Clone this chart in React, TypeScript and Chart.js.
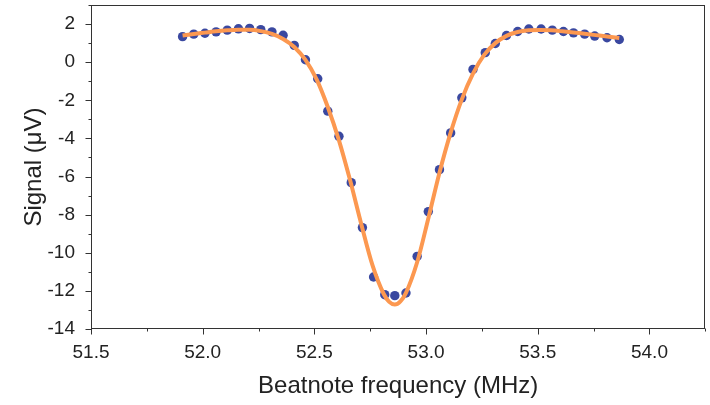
import React, { useEffect, useRef } from "react";
import { Chart, registerables } from "chart.js";

Chart.register(...registerables);

// Measured signal
const DATA_X = [51.91, 51.96, 52.01, 52.06, 52.11, 52.16, 52.21, 52.26, 52.31, 52.36, 52.41, 52.46, 52.515, 52.56, 52.61, 52.665, 52.715, 52.765, 52.815, 52.86, 52.91, 52.96, 53.01, 53.06, 53.11, 53.16, 53.21, 53.265, 53.31, 53.36, 53.41, 53.46, 53.515, 53.565, 53.615, 53.66, 53.71, 53.755, 53.81, 53.865];
const DATA_Y = [1.34, 1.47, 1.52, 1.59, 1.68, 1.75, 1.77, 1.71, 1.59, 1.41, 0.88, 0.13, -0.87, -2.57, -3.89, -6.32, -8.68, -11.27, -12.2, -12.25, -12.11, -10.19, -7.84, -5.64, -3.71, -1.87, -0.38, 0.5, 0.98, 1.4, 1.61, 1.74, 1.74, 1.68, 1.61, 1.54, 1.47, 1.37, 1.28, 1.19];

// Fit curve
const FIT_X = [51.91, 51.96, 52.01, 52.06, 52.11, 52.16, 52.21, 52.26, 52.31, 52.36, 52.41, 52.46, 52.51, 52.56, 52.61, 52.66, 52.71, 52.76, 52.81, 52.835, 52.86, 52.885, 52.91, 52.96, 53.01, 53.06, 53.11, 53.16, 53.21, 53.26, 53.31, 53.36, 53.41, 53.46, 53.51, 53.56, 53.61, 53.66, 53.71, 53.76, 53.81, 53.865];
const FIT_Y = [1.4, 1.48, 1.55, 1.62, 1.67, 1.7, 1.7, 1.63, 1.48, 1.22, 0.8, 0.12, -0.9, -2.35, -4.1, -6.2, -8.5, -10.65, -12.15, -12.58, -12.72, -12.55, -12.1, -10.5, -8.2, -5.8, -3.7, -1.95, -0.6, 0.38, 1.0, 1.38, 1.58, 1.67, 1.69, 1.67, 1.62, 1.56, 1.49, 1.42, 1.35, 1.27];

// Axes
const X_TICKS = [51.5, 52.0, 52.5, 53.0, 53.5, 54.0];
const X_MINOR = [51.75, 52.25, 52.75, 53.25, 53.75, 54.25];
const Y_TICKS = [-14, -12, -10, -8, -6, -4, -2, 0, 2];
const Y_MINOR = [-13, -11, -9, -7, -5, -3, -1, 1, 3];
const X_MIN = 51.5;
const X_MAX = 54.25;
const Y_MIN = -14;
const Y_MAX = 3;

const FONT = "'Liberation Sans', Arial, sans-serif";
const AXIS_COLOR = "#333333";

const framePlugin = {
  id: "frameTicks",
  afterDatasetsDraw(chart: any) {
    const { ctx, chartArea } = chart;
    const xs = chart.scales.x;
    const ys = chart.scales.y;
    ctx.save();
    ctx.strokeStyle = AXIS_COLOR;
    ctx.lineWidth = 1;
    const l = Math.round(chartArea.left) + 0.5;
    const r = Math.round(chartArea.right) - 0.5;
    const t = Math.round(chartArea.top) + 0.5;
    const b = Math.round(chartArea.bottom) - 0.5;
    ctx.strokeRect(l, t, r - l, b - t);
    ctx.beginPath();
    X_TICKS.forEach((v) => {
      const px = Math.round(xs.getPixelForValue(v)) + 0.5;
      ctx.moveTo(px, b);
      ctx.lineTo(px, b + 6);
    });
    X_MINOR.forEach((v) => {
      const px = Math.round(xs.getPixelForValue(v)) + 0.5;
      ctx.moveTo(px, b);
      ctx.lineTo(px, b + 3);
    });
    Y_TICKS.forEach((v) => {
      const py = Math.round(ys.getPixelForValue(v)) + 0.5;
      ctx.moveTo(l, py);
      ctx.lineTo(l - 6, py);
    });
    Y_MINOR.forEach((v) => {
      const py = Math.round(ys.getPixelForValue(v)) + 0.5;
      ctx.moveTo(l, py);
      ctx.lineTo(l - 3, py);
    });
    ctx.stroke();
    ctx.restore();
  },
};

export default function App() {
  const canvasRef = useRef<HTMLCanvasElement | null>(null);

  useEffect(() => {
    const canvas = canvasRef.current;
    if (!canvas) return;
    const fitData = FIT_X.map((x, i) => ({ x, y: FIT_Y[i] }));
    const pts = DATA_X.map((x, i) => ({ x, y: DATA_Y[i] }));
    const chart = new Chart(canvas, {
      type: "scatter",
      data: {
        datasets: [
          {
            label: "Fit",
            data: fitData,
            showLine: true,
            borderColor: "rgb(252, 152, 80)",
            borderWidth: 4,
            pointRadius: 0,
            cubicInterpolationMode: "monotone",
            order: 0,
          },
          {
            label: "Signal",
            data: pts,
            showLine: false,
            backgroundColor: "rgb(58, 72, 160)",
            borderWidth: 0,
            pointRadius: 4.7,
            order: 1,
          },
        ],
      },
      options: {
        responsive: false,
        animation: false,
        events: [],
        layout: { padding: { left: 0, right: 3, top: 5, bottom: 0 } },
        plugins: {
          legend: { display: false },
          tooltip: { enabled: false },
        },
        scales: {
          x: {
            type: "linear",
            min: X_MIN,
            max: X_MAX,
            afterBuildTicks: (scale: any) => {
              scale.ticks = X_TICKS.map((v) => ({ value: v }));
            },
            afterFit: (scale: any) => {
              scale.height = 76;
              scale.paddingLeft = 0;
              scale.paddingRight = 0;
            },
            grid: { display: false },
            border: { display: false },
            ticks: {
              font: { family: FONT, size: 19 },
              color: "#222222",
              padding: 4,
              maxRotation: 0,
              autoSkip: false,
              callback: (v: any) => Number(v).toFixed(1),
            },
            title: {
              display: true,
              text: "Beatnote frequency (MHz)",
              font: { family: FONT, size: 24 },
              color: "#222222",
              padding: { top: 0, bottom: 4 },
            },
          },
          y: {
            type: "linear",
            min: Y_MIN,
            max: Y_MAX,
            afterBuildTicks: (scale: any) => {
              scale.ticks = Y_TICKS.map((v) => ({ value: v }));
            },
            afterFit: (scale: any) => {
              scale.width = 91;
              scale.paddingTop = 0;
              scale.paddingBottom = 0;
            },
            grid: { display: false },
            border: { display: false },
            ticks: {
              font: { family: FONT, size: 19 },
              color: "#222222",
              padding: 8,
              autoSkip: false,
              callback: (v: any) => String(v),
            },
            title: {
              display: true,
              text: "Signal (\u03bcV)",
              font: { family: FONT, size: 24 },
              color: "#222222",
              padding: { top: 20, bottom: 0 },
            },
          },
        },
      },
      plugins: [framePlugin],
    } as any);
    return () => chart.destroy();
  }, []);

  return (
    <div style={{ position: "fixed", left: 0, top: 0, width: 710, height: 405, background: "#ffffff" }}>
      <canvas ref={canvasRef} width={710} height={405} style={{ width: 710, height: 405, display: "block" }} />
    </div>
  );
}
